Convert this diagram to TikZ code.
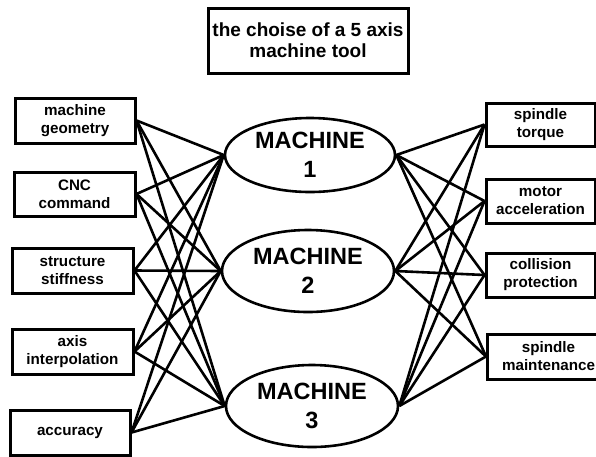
\documentclass[tikz,border=0pt]{standalone}
\usepackage{fontspec}
\setmainfont{Liberation Sans}
\usetikzlibrary{shapes.geometric}
\tikzset{
  crit/.style={draw, line width=3pt, align=center, inner sep=0pt,
    font=\fontsize{15.2}{18}\selectfont\bfseries},
  mach/.style={draw, ellipse, line width=2.6pt, align=center, inner sep=0pt,
    font=\fontsize{23.5}{29}\selectfont\bfseries},
  titlebox/.style={draw, line width=3pt, align=center, inner sep=0pt,
    minimum width=200pt, minimum height=65pt,
    font=\fontsize{19}{21}\selectfont\bfseries},
  conn/.style={line width=2.6pt}
}
\begin{document}
\begin{tikzpicture}[x=1pt,y=-1pt]
\useasboundingbox (0,0) rectangle (596,456);
\node[titlebox] (title) at (308,40.5) {the choise of a 5 axis\\machine tool};
% machines
\node[mach, minimum width=170pt, minimum height=74pt] (m1) at (310,155) {MACHINE\\1};
\node[mach, minimum width=172pt, minimum height=82pt] (m2) at (308,271) {MACHINE\\2};
\node[mach, minimum width=172pt, minimum height=82pt] (m3) at (312,406) {MACHINE\\3};
% left criteria
\node[crit, minimum width=120pt, minimum height=45pt] (mg) at (75,120.5) {machine\\geometry};
\node[crit, minimum width=121pt, minimum height=44pt] (cnc) at (74.5,194) {CNC\\command};
\node[crit, minimum width=121pt, minimum height=45pt] (ss) at (72.5,270.5) {structure\\stiffness};
\node[crit, minimum width=121pt, minimum height=45pt] (ai) at (72.5,351.5) {axis\\interpolation};
\node[crit, minimum width=120pt, minimum height=45pt] (acc) at (70,432.5) {accuracy};
% right criteria
\node[crit, minimum width=109pt, minimum height=43pt] (st) at (540.5,124.5) {spindle\\torque};
\node[crit, minimum width=109pt, minimum height=44pt] (ma) at (540.5,201) {motor\\acceleration};
\node[crit, minimum width=109pt, minimum height=44pt] (cp) at (540.5,275) {collision\\protection};
\node[crit, minimum width=114pt, minimum height=45pt, anchor=west] (sm) at (486,356.5) {\hspace*{8pt}spindle\\\hspace*{8pt}maintenance};
% connectors
\foreach \l in {mg,cnc,ss,ai,acc}{
  \foreach \m in {m1,m2,m3}{
    \draw[conn] (\l.east) -- (\m.west);
  }
}
\foreach \r in {st,ma,cp,sm}{
  \foreach \m in {m1,m2,m3}{
    \draw[conn] (\m.east) -- (\r.west);
  }
}
\end{tikzpicture}
\end{document}
